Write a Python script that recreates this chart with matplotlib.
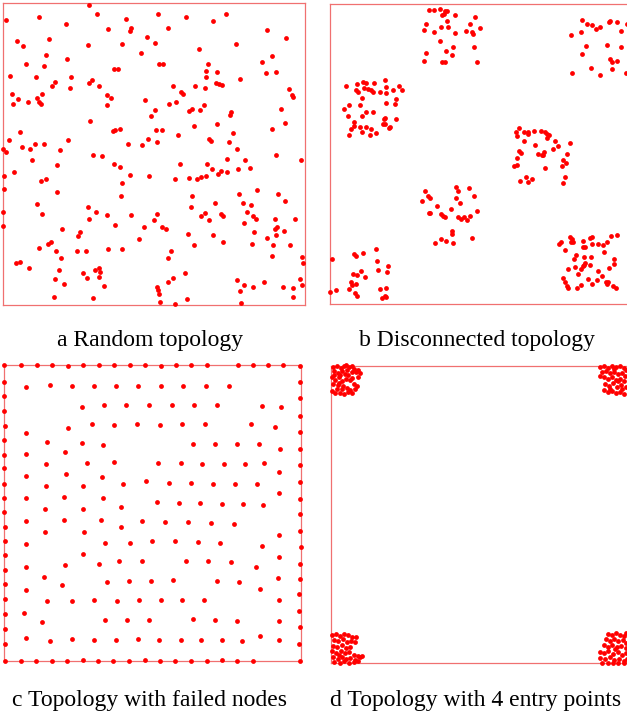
"""
Node placement for four sensor network topologies (2x2 panels)
"""
import numpy as np
import matplotlib
matplotlib.use("Agg")
import matplotlib.pyplot as plt

node_color = '#ff0000'
frame_color = '#f07070'
caption_font = {'family': 'Liberation Serif', 'size': 17}

# field coordinates (arbitrary units, y grows downward like the original screen plots)
random_nodes = [
    (267,14), (18,60), (118,50), (290,41), (474,41), (377,57), (559,51), (679,41), (638,63), (198,73),
    (392,83), (390,94), (323,88), (505,83), (800,90), (857,115), (50,124), (69,137), (146,117), (263,135),
    (367,133), (441,111), (464,128), (709,133), (597,146), (423,159), (137,166), (200,177), (816,168), (786,186),
    (77,193), (131,197), (476,191), (490,193), (623,193), (343,206), (354,208), (619,213), (650,215), (798,220),
    (829,215), (30,228), (108,232), (212,230), (617,230), (720,238), (165,245), (276,239), (267,249), (155,259),
    (647,249), (657,252), (666,255), (296,259), (519,259), (585,257), (615,263), (209,264), (867,268), (36,282),
    (125,282), (321,284), (332,293), (542,275), (548,281), (875,284), (880,290), (55,298), (112,295), (84,307),
    (38,311), (118,307), (123,311), (435,300), (507,311), (528,305), (612,315), (321,315), (843,328), (464,331),
    (566,333), (576,328), (599,331), (693,337), (689,344), (452,348), (270,362), (650,373), (856,369), (582,378),
    (817,386), (361,386), (339,393), (345,391), (467,389), (485,389), (60,395), (698,399), (534,406), (443,416),
    (628,418), (632,422), (27,420), (205,420), (472,426), (688,426), (106,431), (133,431), (385,431), (425,435),
    (67,440), (90,447), (180,449), (8,447), (712,446),
    (18,455), (280,466), (307,468), (828,464), (96,480), (171,495), (342,493), (360,500), (541,493), (621,493),
    (682,478), (735,480), (902,480), (715,507), (750,503), (637,507), (662,512), (655,523), (681,515), (617,527),
    (603,531), (590,536), (567,533), (526,537), (447,527), (389,524), (41,517), (13,527), (124,544), (137,537),
    (367,548), (13,567), (170,575), (362,589), (575,589), (716,582), (771,569), (835,581), (111,611), (263,622),
    (645,609), (728,609), (753,616), (856,602), (572,622), (287,636), (9,636), (125,641), (320,645), (394,645),
    (470,641), (616,638), (604,649), (628,661), (662,643), (670,647), (742,636), (758,647), (769,656), (824,656),
    (885,656), (267,658), (461,660), (733,670), (9,678), (185,686), (345,674), (432,681), (485,680), (497,687),
    (824,687), (830,680), (851,694), (762,696), (241,696), (234,707), (563,702), (638,705), (416,716), (801,714),
    (828,704), (152,726), (144,732), (118,744), (670,727), (755,732), (818,735), (869,734), (581,735), (169,752),
    (230,754), (258,752), (325,748), (365,746), (513,752), (504,774), (815,769), (905,771), (910,790), (182,774),
    (47,789), (59,787), (87,805), (176,810), (284,810), (298,804), (300,816), (249,820), (261,834), (298,830),
    (556,818), (519,833), (505,847), (710,839), (793,847), (166,837), (193,852), (313,857), (470,861), (475,870),
    (476,881), (731,854), (760,860), (850,860), (880,864), (900,837), (905,854), (720,874), (161,890), (278,894),
    (561,896), (878,890), (481,905), (526,911), (724,909),
]

disconnected_nodes = [
    # top cluster
    (313,31), (326,29), (345,27), (360,33), (366,33), (352,45), (358,42), (390,46), (450,50), (302,72),
    (366,63), (298,90), (326,95), (347,82), (369,82), (389,100), (435,73), (423,93), (440,95), (443,101),
    (464,84), (346,124), (385,140), (448,140), (362,153), (304,160), (380,165), (296,183), (350,185), (360,185),
    (455,186),
    # top right cluster
    (770,61), (786,71), (800,75), (856,62), (853,66), (876,65), (905,71), (814,88), (825,80), (767,97),
    (738,104), (889,93), (784,138), (847,136), (888,141), (770,161), (855,176), (862,186), (876,183), (797,204),
    (860,208), (825,224), (740,219), (904,220),
    # left cluster
    (63,258), (96,251), (113,247), (124,250), (146,250), (180,241), (116,263), (130,267), (137,271), (143,277),
    (93,271), (98,277), (166,276), (184,280), (182,261), (203,269), (223,257), (230,271), (111,293), (214,298),
    (209,312), (183,309), (72,314), (106,316), (57,328), (122,336), (144,337), (68,348), (111,348), (181,354),
    (178,358), (212,358), (88,367), (86,379), (78,386), (106,381), (124,382), (138,386), (174,373), (180,373),
    (196,380), (193,384), (110,397), (71,404), (136,405), (152,400),
    # centre cluster
    (582,384), (574,397), (575,408), (598,397), (609,396), (608,403), (628,394), (649,394), (660,395), (667,402),
    (671,405), (665,413), (598,424), (691,422), (698,437), (734,428), (630,436), (582,452), (588,460), (640,463),
    (656,457), (650,466), (685,448), (727,461), (577,475), (577,496), (566,497), (585,543), (603,532), (609,546),
    (621,537), (660,505), (714,481), (724,489), (711,499), (719,532), (714,548), (654,464),
    # middle cluster
    (392,561), (433,563), (300,572), (400,574), (308,589), (315,593), (448,587), (290,602), (392,593), (406,610),
    (336,618), (378,626), (312,638), (316,640), (349,641), (353,647), (360,651), (400,652), (407,656), (418,652),
    (427,661), (435,647), (455,634), (380,693), (380,703), (331,728), (347,716), (362,724), (383,728), (441,713),
    # bottom left cluster
    (21,778), (15,877), (32,870), (87,762), (92,769), (113,760), (154,747), (156,783), (159,810), (188,799),
    (186,816), (84,823), (97,825), (109,814), (119,832), (77,847), (82,854), (92,852), (71,868), (89,879),
    (95,888), (164,868), (184,864), (172,894), (181,887), (184,890),
    # bottom right cluster
    (703,733), (709,725), (720,749), (735,712), (740,716), (738,725), (745,727), (774,724), (795,714), (800,712),
    (774,742), (780,742), (800,731), (820,733), (835,736), (845,726), (857,708), (875,704), (838,757), (754,766),
    (748,778), (776,771), (797,771), (867,778), (866,791), (730,806), (750,801), (776,794), (779,790), (773,799),
    (768,808), (796,795), (852,803), (758,823), (819,814), (832,829), (713,835), (720,847), (725,858), (728,863),
    (757,865), (767,855), (789,836), (801,853), (816,841), (844,845), (850,847), (845,852), (864,857), (873,863),
]

failed_nodes = [
    # border nodes
    (13,20), (64,20), (110,21), (157,21), (203,23), (250,20), (298,21), (343,20), (389,20), (436,21),
    (482,23), (527,21), (574,21), (620,21), (713,22), (758,20), (803,20), (850,20), (900,23),
    (13,71), (13,115), (13,158), (15,203), (13,247), (13,290), (13,331), (13,377), (13,419),
    (13,462), (14,508), (16,549), (15,592), (15,637), (14,679), (14,723), (14,769), (16,812), (14,858), (16,908),
    (900,72), (900,121), (900,175), (900,223), (900,272), (900,320), (900,371), (900,422),
    (900,469), (900,518), (902,567), (901,617), (900,664), (898,709), (898,758), (900,808), (898,857), (900,908),
    (64,908), (109,909), (155,909), (201,908), (248,907), (295,909), (340,909), (386,909), (434,907), (480,909),
    (524,909), (572,910), (620,910), (665,907), (710,909), (758,908),
    # interior nodes
    (79,88), (151,82), (217,85), (281,85), (347,83), (414,84), (482,84), (550,84), (619,83), (687,84),
    (246,147), (313,142), (379,142), (447,142), (515,142), (583,142), (651,141), (785,144), (843,148),
    (79,224), (203,209), (276,199), (343,201), (411,199), (479,200), (547,199), (615,199), (752,199), (826,208),
    (142,253), (247,254), (309,261), (578,257), (645,258), (711,257), (776,257), (841,272),
    (79,288), (196,283), (137,319), (261,316), (341,312), (475,314), (542,316), (606,317), (671,318), (734,318),
    (791,315), (79,354), (197,349), (305,358), (838,343),
    (137,385), (248,385), (369,377), (439,370), (506,374), (572,376), (638,378), (705,379), (772,378),
    (838,404), (77,421), (192,418), (308,419), (134,454), (249,453), (362,447), (472,433), (536,434), (601,436),
    (667,438), (730,439), (788,440),
    (78,489), (193,487), (304,486), (426,490), (495,492), (564,493), (632,495), (701,497), (135,521), (252,522),
    (362,507), (836,532), (79,557), (315,554), (391,555), (457,549), (526,550), (594,552), (660,554), (785,565),
    (249,587), (837,598), (79,627), (194,620), (296,617), (358,610), (425,610), (557,608), (625,610), (694,613),
    (767,626), (132,658), (186,682), (320,672), (387,668), (453,668), (519,666), (652,668), (717,671), (833,659),
    (79,697), (780,693), (140,729), (216,730), (282,725), (351,728), (417,727), (483,726), (547,726), (612,726),
    (836,725), (73,765), (125,793), (316,785), (382,786), (448,786), (578,784), (644,786), (711,790), (836,788),
    (79,839), (151,850), (217,843), (283,845), (348,845), (413,844), (478,846), (542,845), (604,846), (666,846),
    (726,849), (780,835), (838,847),
]

entry_nodes = [
    # top left entry
    (24,20), (36,17), (47,24), (56,19), (63,16), (72,22), (80,18), (88,26), (98,30), (106,38),
    (26,34), (38,40), (50,33), (60,42), (70,46), (80,37), (92,36), (22,52), (31,60), (42,51),
    (52,63), (64,56), (74,60), (86,72), (95,77), (25,72), (38,76), (55,78), (66,85), (76,90),
    (90,88), (22,92), (30,100), (45,98), (58,101), (70,96), (82,99), (50,88), (35,88), (100,50),
    (82,55), (42,68), (28,45), (66,30), (46,45),
    # top right entry
    (826,22), (838,18), (850,24), (860,17), (872,21), (884,19), (896,24), (904,30), (830,36), (842,32),
    (855,40), (866,35), (878,42), (890,38), (900,48), (836,52), (848,58), (860,52), (872,60), (886,56),
    (898,64), (840,72), (852,78), (864,70), (876,80), (888,74), (902,82), (838,90), (850,96), (862,92),
    (874,100), (886,96), (898,102), (856,86), (892,88), (868,28), (826,48), (880,64),
    # bottom left entry
    (22,824), (34,822), (46,828), (58,821), (68,826), (80,830), (92,832), (26,840), (40,844), (54,838),
    (66,846), (78,842), (90,846), (24,858), (36,862), (50,856), (62,864), (74,860), (22,874), (34,878),
    (48,872), (60,880), (72,876), (86,884), (98,888), (24,892), (38,896), (52,890), (64,898), (76,894),
    (90,900), (104,890), (28,906), (44,908), (58,904), (72,910), (86,906), (100,904), (110,888), (42,884),
    # bottom right entry
    (850,822), (862,826), (874,820), (886,824), (898,828), (904,818), (842,838), (856,842), (868,836), (880,844),
    (894,840), (904,848), (836,856), (848,860), (862,854), (876,862), (888,858), (902,864), (824,876), (838,880),
    (850,874), (864,882), (878,876), (892,884), (904,878), (826,894), (840,898), (854,892), (868,900), (882,896),
    (896,904), (832,910), (848,908), (864,910), (880,908), (896,910), (906,896), (870,866),
]

captions = ['a Random topology', 'b Disconnected topology',
            'c Topology with failed nodes', 'd Topology with 4 entry points']


def draw_field(fig, rect, nodes, xlim, ylim):
    ax = fig.add_axes(rect)
    pts = np.array(nodes)
    ax.scatter(pts[:, 0], pts[:, 1], s=12, color=node_color, linewidths=0,
               zorder=3, clip_on=False)
    ax.set_xlim(xlim)
    ax.set_ylim(ylim)
    ax.set_xticks([])
    ax.set_yticks([])
    for sp in ax.spines.values():
        sp.set_color(frame_color)
        sp.set_linewidth(0.9)
    return ax


fig = plt.figure(figsize=(6.27, 7.17), dpi=100)

draw_field(fig, [0.0053, 0.5746, 0.4817, 0.4208], random_nodes, (10, 916), (915, 10))
draw_field(fig, [0.5268, 0.5760, 0.4785, 0.4180], disconnected_nodes, (16, 916), (912, 13))
draw_field(fig, [0.0069, 0.0777, 0.4727, 0.4137], failed_nodes, (13, 902), (910, 20))
draw_field(fig, [0.5284, 0.0749, 0.4737, 0.4142], entry_nodes, (19, 910), (910, 19))

fig.text(150/627, 1-346/717, captions[0], ha='center', va='baseline', **caption_font)
fig.text(477/627, 1-346/717, captions[1], ha='center', va='baseline', **caption_font)
fig.text(150/627, 1-706/717, captions[2], ha='center', va='baseline', **caption_font)
fig.text(476/627, 1-706/717, captions[3], ha='center', va='baseline', **caption_font)

plt.savefig('out.png', dpi=100)
